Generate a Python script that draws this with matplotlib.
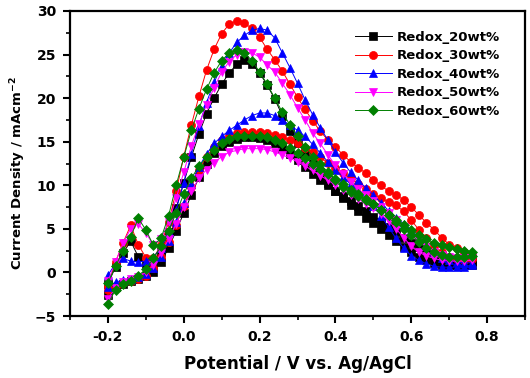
import matplotlib
matplotlib.use('Agg')
import matplotlib.pyplot as plt
from matplotlib.ticker import MultipleLocator

plt.rcParams['font.family'] = ['DejaVu Sans']
plt.rcParams['font.weight'] = 'bold'
plt.rcParams['mathtext.fontset'] = 'dejavusans'

# Potential grid (V vs. Ag/AgCl), shared by both scan branches
potential = [-0.20, -0.18, -0.16, -0.14, -0.12, -0.10, -0.08, -0.06, -0.04, -0.02,
             0.00, 0.02, 0.04, 0.06, 0.08, 0.10, 0.12, 0.14, 0.16, 0.18,
             0.20, 0.22, 0.24, 0.26, 0.28, 0.30, 0.32, 0.34, 0.36, 0.38,
             0.40, 0.42, 0.44, 0.46, 0.48, 0.50, 0.52, 0.54, 0.56, 0.58,
             0.60, 0.62, 0.64, 0.66, 0.68, 0.70, 0.72, 0.74, 0.76]

labels = ['Redox_20wt%', 'Redox_30wt%', 'Redox_40wt%', 'Redox_50wt%', 'Redox_60wt%']
colors = ['#000000', '#ff0000', '#0000ff', '#ff00ff', '#008000']
markers = ['s', 'o', '^', 'v', 'D']

# branch with the smaller peak (listed in increasing potential)
low_20 = [-2.6, -1.7, -1.3, -1.0, -0.7, -0.4, 0.1, 1.2, 2.8, 4.8,
          6.8, 8.9, 10.9, 12.5, 13.7, 14.5, 15.0, 15.3, 15.5, 15.5,
          15.4, 15.2, 14.8, 14.3, 13.6, 12.9, 12.1, 11.3, 10.6, 10.0,
          9.4, 8.8, 8.2, 7.6, 7.0, 6.4, 5.8, 5.2, 4.6, 4.0,
          3.4, 2.9, 2.4, 2.0, 1.7, 1.5, 1.4, 1.3, 1.3]
low_30 = [-2.0, -1.5, -1.2, -1.0, -0.8, -0.4, 0.5, 1.8, 3.5, 5.5,
          7.6, 9.8, 11.8, 13.3, 14.4, 15.2, 15.7, 16.0, 16.1, 16.1,
          16.1, 16.0, 15.8, 15.5, 15.2, 14.8, 14.3, 13.8, 13.2, 12.6,
          12.0, 11.4, 10.8, 10.2, 9.6, 9.0, 8.5, 8.1, 7.7, 7.0,
          6.0, 4.9, 3.9, 3.0, 2.3, 1.8, 1.5, 1.4, 1.5]
low_40 = [-1.7, -1.1, -0.9, -0.7, -0.5, -0.2, 0.5, 1.8, 3.6, 5.8,
          8.0, 10.2, 12.1, 13.6, 14.8, 15.6, 16.3, 16.9, 17.5, 18.0,
          18.3, 18.3, 18.0, 17.5, 16.9, 16.3, 15.6, 14.7, 13.7, 12.7,
          11.8, 11.0, 10.1, 9.4, 8.6, 7.6, 6.5, 5.2, 3.9, 2.8,
          1.9, 1.4, 1.0, 0.7, 0.6, 0.6, 0.6, 0.6, 0.9]
low_50 = [-3.0, -1.8, -1.1, -0.8, -0.5, 0.0, 0.8, 2.2, 3.8, 5.6,
          7.5, 9.3, 10.8, 11.8, 12.6, 13.3, 13.8, 14.0, 14.2, 14.2,
          14.2, 14.1, 13.8, 13.5, 13.1, 12.7, 12.2, 11.7, 11.1, 10.6,
          10.0, 9.5, 8.9, 8.4, 7.9, 7.4, 6.7, 5.9, 5.0, 4.0,
          3.0, 2.3, 1.9, 1.6, 1.4, 1.3, 1.3, 1.3, 1.4]
low_60 = [-3.6, -2.0, -1.3, -1.0, -0.4, 0.4, 1.6, 3.0, 4.8, 6.8,
          9.0, 10.8, 12.2, 13.2, 14.0, 14.8, 15.3, 15.6, 15.7, 15.7,
          15.7, 15.5, 15.2, 14.8, 14.3, 13.7, 13.1, 12.5, 11.9, 11.3,
          10.7, 10.1, 9.5, 9.0, 8.4, 7.8, 7.2, 6.6, 6.0, 5.4,
          4.9, 4.3, 3.8, 3.4, 3.1, 2.9, 2.7, 2.5, 2.4]

# branch with the larger peak (listed in increasing potential)
high_20 = [-1.3, 0.6, 2.2, 3.6, 1.8, 0.9, 1.0, 2.4, 4.6, 7.4,
           10.3, 13.2, 15.9, 18.2, 20.0, 21.6, 22.9, 23.9, 24.4, 23.9,
           22.9, 21.5, 19.9, 18.0, 16.2, 14.9, 13.7, 12.5, 11.4, 10.3,
           9.3, 8.5, 7.7, 7.0, 6.3, 5.7, 5.0, 4.3, 3.6, 2.9,
           2.3, 1.8, 1.4, 1.1, 0.9, 0.8, 0.8, 0.8, 0.9]
high_30 = [-1.5, 1.2, 3.4, 5.4, 3.2, 1.7, 1.6, 3.2, 5.8, 9.3,
           13.3, 16.9, 20.2, 23.2, 25.6, 27.4, 28.5, 28.9, 28.6, 28.0,
           27.0, 25.6, 24.4, 23.1, 21.6, 20.1, 18.7, 17.4, 16.2, 15.2,
           14.4, 13.5, 12.7, 12.0, 11.4, 10.6, 10.0, 9.3, 8.9, 8.3,
           7.5, 6.6, 5.7, 4.9, 4.0, 3.2, 2.8, 2.3, 2.0]
high_40 = [-0.3, 1.0, 1.6, 1.3, 1.2, 1.3, 1.8, 2.8, 4.6, 7.2,
           10.3, 13.6, 16.8, 19.5, 21.8, 23.7, 25.2, 26.4, 27.2, 27.8,
           28.0, 27.8, 26.9, 25.2, 23.5, 21.7, 19.8, 18.1, 16.6, 15.2,
           13.8, 12.6, 11.5, 10.6, 9.7, 8.9, 8.0, 7.1, 6.3, 5.6,
           4.9, 3.9, 3.0, 2.3, 1.7, 1.4, 1.2, 1.1, 1.1]
high_50 = [-1.0, 1.2, 3.4, 5.0, 5.6, 4.5, 3.2, 3.8, 5.8, 8.5,
           11.5, 14.5, 17.0, 19.2, 21.2, 23.0, 24.2, 25.0, 25.3, 25.2,
           24.7, 23.8, 23.0, 21.7, 20.4, 18.9, 17.5, 16.0, 14.8, 13.5,
           12.3, 11.3, 10.4, 9.6, 8.9, 8.2, 7.5, 6.8, 6.0, 5.2,
           4.4, 3.6, 2.9, 2.4, 2.0, 1.8, 1.7, 1.7, 1.7]
high_60 = [-1.2, 0.7, 2.5, 4.1, 6.2, 4.9, 3.1, 3.9, 6.5, 10.0,
           13.2, 16.3, 18.8, 21.0, 22.9, 24.3, 25.2, 25.5, 25.2, 24.3,
           23.0, 21.6, 20.0, 18.4, 16.9, 15.6, 14.4, 13.3, 12.4, 11.5,
           10.6, 9.8, 9.2, 8.8, 8.3, 7.8, 7.2, 6.6, 5.8, 5.0,
           4.3, 3.5, 2.8, 2.3, 2.0, 1.8, 1.8, 1.8, 1.9]

low_branches = [low_20, low_30, low_40, low_50, low_60]
high_branches = [high_20, high_30, high_40, high_50, high_60]

fig = plt.figure(figsize=(5.30, 3.78), dpi=100)
ax = fig.add_axes([70/530, 1-316/378, 455/530, 305/378])

for lab, col, mk, lo, hi in zip(labels, colors, markers, low_branches, high_branches):
    xs = potential + potential[::-1]
    ys = lo + hi[::-1]
    ms = 5.8 if mk != 'D' else 5.2
    ax.plot(xs, ys, color=col, marker=mk, markersize=ms, linewidth=0.7,
            markeredgewidth=0.5, markeredgecolor=col, label=lab)

ax.set_xlim(-0.3, 0.9)
ax.set_ylim(-5, 30)
ax.xaxis.set_major_locator(MultipleLocator(0.2))
ax.xaxis.set_minor_locator(MultipleLocator(0.1))
ax.yaxis.set_major_locator(MultipleLocator(5))
ax.yaxis.set_minor_locator(MultipleLocator(2.5))
ax.set_xticks([-0.2, 0.0, 0.2, 0.4, 0.6, 0.8])
ax.set_xticklabels(['-0.2', '0.0', '0.2', '0.4', '0.6', '0.8'])

for s in ax.spines.values():
    s.set_linewidth(1.6)
ax.tick_params(axis='both', which='major', direction='out', length=5, width=1.5,
               labelsize=10, pad=5, top=False, right=False)
ax.tick_params(axis='both', which='minor', direction='out', length=3, width=1.2,
               top=False, right=False)
for t in ax.get_xticklabels() + ax.get_yticklabels():
    t.set_fontweight('bold')

ax.set_xlabel('Potential / V vs. Ag/AgCl', fontsize=12, fontweight='bold')
ax.xaxis.set_label_coords(0.5, -0.128)
ax.set_ylabel(r'Current Density / mAcm$^{\mathbf{-2}}$', fontsize=9.5, fontweight='bold')
ax.yaxis.set_label_coords(-0.092, 0.47)

leg = ax.legend(loc='upper left', bbox_to_anchor=(0.626, 0.935), frameon=False,
                fontsize=9.5, handlelength=2.8, handletextpad=0.4, labelspacing=0.42,
                borderpad=0, borderaxespad=0)
for t in leg.get_texts():
    t.set_fontweight('bold')

fig.savefig('out.png', dpi=100)
